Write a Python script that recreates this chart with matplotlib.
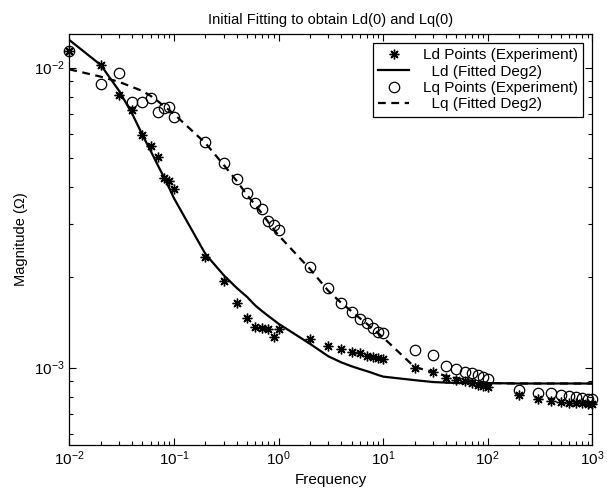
import matplotlib
matplotlib.use('Agg')
import matplotlib.pyplot as plt
from matplotlib.ticker import LogLocator, NullFormatter

plt.rcParams['font.family'] = ['Liberation Sans', 'DejaVu Sans']
plt.rcParams['mathtext.default'] = 'regular'

# measurement frequencies (same grid for both machines)
freq = [0.01, 0.02, 0.03, 0.04, 0.05, 0.06, 0.07, 0.08, 0.09,
        0.1, 0.2, 0.3, 0.4, 0.5, 0.6, 0.7, 0.8, 0.9,
        1, 2, 3, 4, 5, 6, 7, 8, 9,
        10, 20, 30, 40, 50, 60, 70, 80, 90,
        100, 200, 300, 400, 500, 600, 700, 800, 900, 1000]

ld_points = [1.135e-2, 1.02e-2, 8.10e-3, 7.22e-3, 5.96e-3, 5.47e-3, 5.03e-3, 4.28e-3, 4.18e-3,
             3.94e-3, 2.34e-3, 1.94e-3, 1.64e-3, 1.46e-3, 1.365e-3, 1.355e-3, 1.34e-3, 1.26e-3,
             1.34e-3, 1.245e-3, 1.18e-3, 1.15e-3, 1.126e-3, 1.117e-3, 1.092e-3, 1.084e-3, 1.076e-3,
             1.067e-3, 9.96e-4, 9.66e-4, 9.23e-4, 9.08e-4, 9.02e-4, 8.88e-4, 8.74e-4, 8.68e-4,
             8.61e-4, 8.10e-4, 7.85e-4, 7.73e-4, 7.67e-4, 7.64e-4, 7.61e-4, 7.61e-4, 7.58e-4, 7.58e-4]

ld_fit = [1.235e-2, 1.019e-2, 8.35e-3, 7.00e-3, 5.96e-3, 5.27e-3, 4.73e-3, 4.32e-3, 3.97e-3,
          3.67e-3, 2.39e-3, 2.03e-3, 1.84e-3, 1.72e-3, 1.61e-3, 1.54e-3, 1.485e-3, 1.44e-3,
          1.40e-3, 1.20e-3, 1.09e-3, 1.04e-3, 1.01e-3, 9.89e-4, 9.73e-4, 9.58e-4, 9.44e-4,
          9.33e-4, 9.08e-4, 8.95e-4, 8.91e-4, 8.88e-4, 8.88e-4, 8.88e-4, 8.88e-4, 8.88e-4,
          8.88e-4, 8.85e-4, 8.85e-4, 8.85e-4, 8.85e-4, 8.85e-4, 8.85e-4, 8.85e-4, 8.85e-4, 8.85e-4]

lq_points = [1.135e-2, 8.81e-3, 9.59e-3, 7.67e-3, 7.67e-3, 7.91e-3, 7.11e-3, 7.33e-3, 7.38e-3,
             6.84e-3, 5.64e-3, 4.80e-3, 4.25e-3, 3.82e-3, 3.53e-3, 3.375e-3, 3.08e-3, 2.985e-3,
             2.87e-3, 2.16e-3, 1.84e-3, 1.64e-3, 1.53e-3, 1.45e-3, 1.41e-3, 1.355e-3, 1.31e-3,
             1.30e-3, 1.14e-3, 1.10e-3, 1.01e-3, 9.89e-4, 9.66e-4, 9.58e-4, 9.44e-4, 9.30e-4,
             9.15e-4, 8.41e-4, 8.22e-4, 8.22e-4, 8.10e-4, 8.04e-4, 7.97e-4, 7.91e-4, 7.85e-4, 7.85e-4]

lq_fit = [9.86e-3, 9.32e-3, 8.95e-3, 8.61e-3, 8.35e-3, 8.04e-3, 7.73e-3, 7.44e-3, 7.22e-3,
          7.00e-3, 5.60e-3, 4.73e-3, 4.18e-3, 3.76e-3, 3.48e-3, 3.25e-3, 3.05e-3, 2.89e-3,
          2.76e-3, 2.13e-3, 1.80e-3, 1.64e-3, 1.54e-3, 1.46e-3, 1.40e-3, 1.34e-3, 1.30e-3,
          1.26e-3, 1.004e-3, 9.66e-4, 9.37e-4, 9.23e-4, 9.12e-4, 9.05e-4, 8.98e-4, 8.95e-4,
          8.88e-4, 8.85e-4, 8.85e-4, 8.85e-4, 8.85e-4, 8.85e-4, 8.85e-4, 8.85e-4, 8.85e-4, 8.85e-4]

fig = plt.figure(figsize=(6.07, 4.98), dpi=100)
ax = fig.add_axes([0.1142, 0.1064, 0.8616, 0.8253])

ax.loglog(freq, ld_points, linestyle='none', marker=(8, 2, 0), markersize=7,
          color='black', markeredgewidth=1.0, clip_on=False, label='Ld Points (Experiment)')
ax.loglog(freq, ld_fit, '-', color='black', linewidth=1.6, label='  Ld (Fitted Deg2)')
ax.loglog(freq, lq_points, linestyle='none', marker='o', markersize=7.5,
          markerfacecolor='none', markeredgecolor='black', markeredgewidth=0.9,
          clip_on=False, label='Lq Points (Experiment)')
ax.loglog(freq, lq_fit, '--', color='black', linewidth=1.6, dashes=(3.5, 2.5),
          label='  Lq (Fitted Deg2)')

ax.set_xlim(1e-2, 1e3)
ax.set_ylim(5.52e-4, 1.293e-2)

ax.xaxis.set_major_locator(LogLocator(base=10, numticks=10))
ax.yaxis.set_major_locator(LogLocator(base=10, numticks=10))
ax.yaxis.set_minor_formatter(NullFormatter())
ax.tick_params(which='both', direction='in', top=True, right=True, labelsize=11)
ax.tick_params(which='major', length=5, width=0.8)
ax.tick_params(which='minor', length=3, width=0.8)
for s in ax.spines.values():
    s.set_linewidth(0.9)

ax.set_title('Initial Fitting to obtain Ld(0) and Lq(0)', fontsize=10.5, pad=7)
ax.set_xlabel('Frequency', fontsize=11, labelpad=3)
ax.set_ylabel('Magnitude (\u03a9)', fontsize=10.5, labelpad=4)

leg = ax.legend(loc='upper right', bbox_to_anchor=(0.982, 0.978), borderaxespad=0,
                fancybox=False, framealpha=1, edgecolor='black', fontsize=11,
                handlelength=2.0, handletextpad=0.9, borderpad=0.35, labelspacing=0.15)
leg.get_frame().set_linewidth(0.9)

fig.savefig('out.png', dpi=100)
